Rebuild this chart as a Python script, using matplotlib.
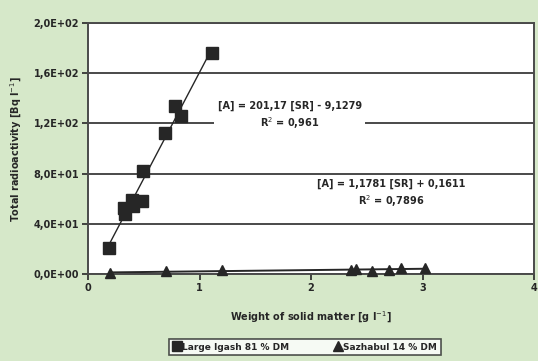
import numpy as np
import matplotlib
matplotlib.use("Agg")
import matplotlib.pyplot as plt
from matplotlib.lines import Line2D

# Large Igash 81 % DM
sq_x = [0.19, 0.33, 0.40, 0.48, 0.32, 0.39, 0.49, 0.69, 0.78, 0.83, 1.11]
sq_y = [20.6, 48.0, 54.5, 58.0, 53.0, 58.7, 82.5, 112.0, 134.0, 126.0, 176.5]

# Sazhabul 14 % DM
tr_x = [0.20, 0.70, 1.20, 2.36, 2.40, 2.55, 2.70, 2.81, 3.02]
tr_y = [1.0, 2.0, 2.8, 3.2, 4.0, 2.5, 3.0, 4.6, 5.0]

x_ticks = [0, 1, 2, 3, 4]
x_tick_labels = ["0", "1", "2", "3", "4"]
y_ticks = [0, 40, 80, 120, 160, 200]
y_tick_labels = ["0,0E+00", "4,0E+01", "8,0E+01", "1,2E+02", "1,6E+02", "2,0E+02"]

label_sq = "Large Igash 81 % DM"
label_tr = "Sazhabul 14 % DM"
eq_sq = "[A] = 201,17 [SR] - 9,1279\nR$^2$ = 0,961"
eq_tr = "[A] = 1,1781 [SR] + 0,1611\nR$^2$ = 0,7896"

bg = "#d6e8c9"
ink = "#262626"

fig = plt.figure(figsize=(5.38, 3.61), dpi=100, facecolor=bg)
ax = fig.add_axes([0.1636, 0.241, 0.829, 0.695])
ax.set_facecolor("white")

ax.set_xlim(0, 4)
ax.set_ylim(0, 200)
ax.set_xticks(x_ticks)
ax.set_xticklabels(x_tick_labels)
ax.set_yticks(y_ticks)
ax.set_yticklabels(y_tick_labels)
ax.tick_params(labelsize=7, colors=ink, length=4, width=1.2, direction="out",
               pad=2.5)
for lab in ax.get_xticklabels() + ax.get_yticklabels():
    lab.set_fontweight("bold")

ax.yaxis.grid(True, color="#3a3a3a", linewidth=1.3)
ax.set_axisbelow(True)
for side in ["left", "bottom", "top", "right"]:
    ax.spines[side].set_color("#4a4a4a")
    ax.spines[side].set_linewidth(1.4)

# Linear trend lines fitted to each series
p1 = np.polyfit(sq_x, sq_y, 1)
xs1 = np.array([min(sq_x), max(sq_x)])
ax.plot(xs1, np.polyval(p1, xs1), color=ink, lw=1.0, zorder=2)
p2 = np.polyfit(tr_x, tr_y, 1)
xs2 = np.array([min(tr_x), max(tr_x)])
ax.plot(xs2, np.polyval(p2, xs2), color=ink, lw=1.4, zorder=2)

ax.plot(sq_x, sq_y, linestyle="none", marker="s", markersize=8,
        color=ink, zorder=3, clip_on=False)
ax.plot(tr_x, tr_y, linestyle="none", marker="^", markersize=7,
        color=ink, zorder=3, clip_on=False)

ax.text(1.81, 126, eq_sq, ha="center", va="center", fontsize=7,
        fontweight="bold", color=ink, linespacing=1.3,
        bbox=dict(facecolor="white", edgecolor="none", pad=2.5))
ax.text(2.72, 64, eq_tr, ha="center", va="center", fontsize=7,
        fontweight="bold", color=ink, linespacing=1.3,
        bbox=dict(facecolor="white", edgecolor="none", pad=1.5))

ax.set_xlabel("Weight of solid matter [g l$^{-1}$]", fontsize=7,
              fontweight="bold", color=ink, labelpad=12)
ax.set_ylabel("Total radioactivity [Bq l$^{-1}$]", fontsize=7,
              fontweight="bold", color=ink, labelpad=7)

handles = [
    Line2D([], [], linestyle="none", marker="s", markersize=7, color=ink),
    Line2D([], [], linestyle="none", marker="^", markersize=7, color=ink),
]
leg = fig.legend(handles, [label_sq, label_tr], loc="center",
                 bbox_to_anchor=(0.567, 0.0385), ncol=2, frameon=True,
                 fancybox=False, edgecolor=ink, fontsize=6.5,
                 handlelength=0.8, handletextpad=0.2, columnspacing=5.0,
                 borderpad=0.4)
leg.get_frame().set_linewidth(1.2)
for t in leg.get_texts():
    t.set_fontweight("bold")
    t.set_color(ink)

fig.savefig("out.png", dpi=100, facecolor=bg)
